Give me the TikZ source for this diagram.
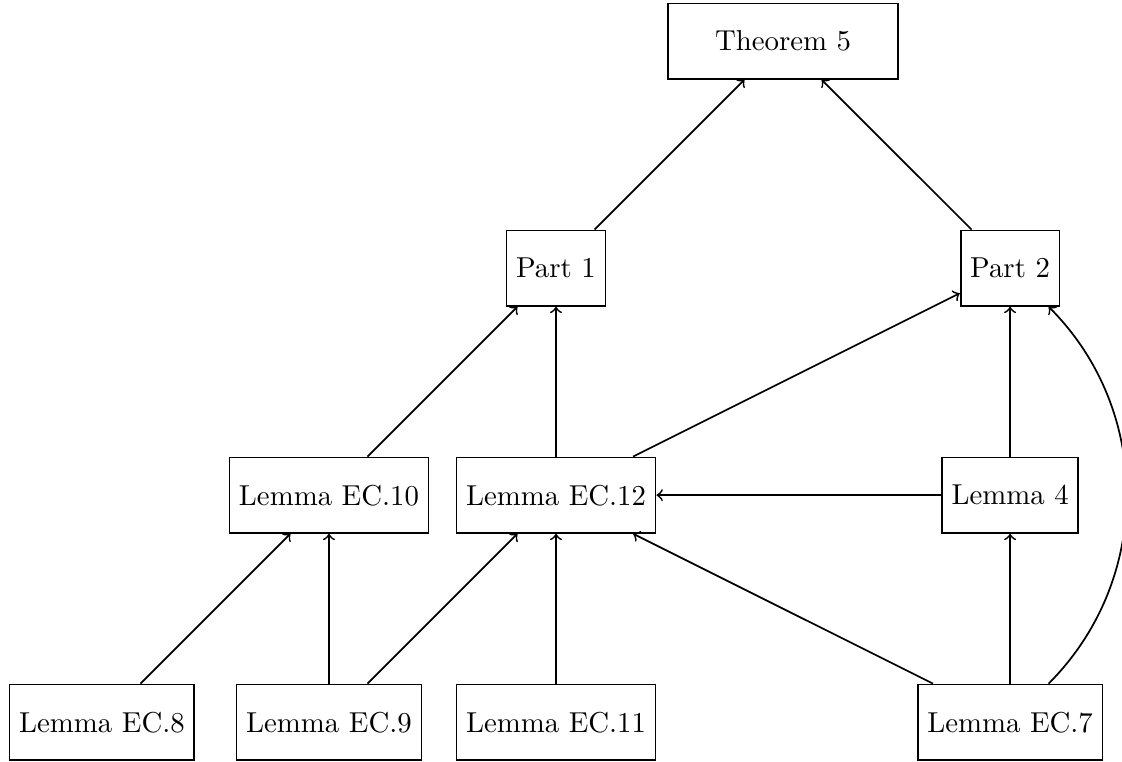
\documentclass[tikz,border=0pt]{standalone}
\usepackage{amsmath}
\usepackage{tikz}
\usetikzlibrary{arrows, positioning}
\tikzset{
	block/.style={draw, semithick, minimum height=0.92cm}
}

\begin{document}
\begin{tikzpicture}[x=2.77cm, y=2.77cm]
		\useasboundingbox (-0.449,-0.172) rectangle (4.493,3.181);
		
		\node[block, minimum width=2.8cm] (thm) at (3,3) {Theorem 5};
		
		\node[block] (part1) at (2,2) {Part 1};
		\node[block] (part2) at (4,2) {Part 2};
		
		\node[block] (ec10) at (1,1) {Lemma EC.10};
		\node[block] (ec12) at (2,1) {Lemma EC.12};
		\node[block] (lem4) at (4,1) {Lemma 4};
		
		\node[block] (ec8) at (0,0) {Lemma EC.8};
		\node[block] (ec9) at (1,0) {Lemma EC.9};
		\node[block] (ec11) at (2,0) {Lemma EC.11};
		\node[block] (ec7) at (4,0) {Lemma EC.7};
		
		% top level
		\draw[->, semithick] (part1) -- (thm);
		\draw[->, semithick] (part2) -- (thm);
		
		\draw[->, semithick] (ec10) -- (part1);
		\draw[->, semithick] (ec12) -- (part1);
		\draw[->, semithick] (ec12) -- (part2);
		\draw[->, semithick] (lem4) -- (part2);
		\draw[->, semithick] (lem4) -- (ec12);
		
		% lemmas
		\draw[->, semithick] (ec8) -- (ec10);
		\draw[->, semithick] (ec9) -- (ec10);
		\draw[->, semithick] (ec9) -- (ec12);
		\draw[->, semithick] (ec11) -- (ec12);
		\draw[->, semithick] (ec7) -- (ec12);
		\draw[->, semithick] (ec7) -- (lem4);
		\draw[->, semithick] (ec7) to[bend right=45] (part2);
	\end{tikzpicture}
\end{document}
